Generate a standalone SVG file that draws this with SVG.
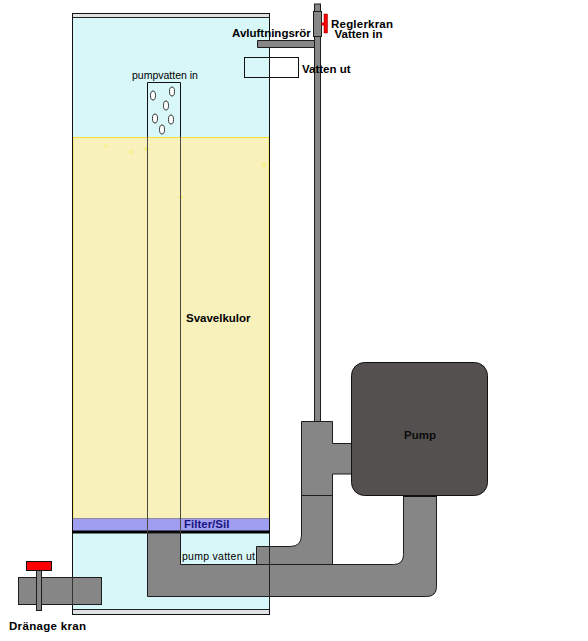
<svg xmlns="http://www.w3.org/2000/svg" width="588" height="641" viewBox="0 0 588 641">
<style>
text{font-family:"Liberation Sans",Arial,sans-serif;fill:#000}
.b{font-size:11.5px;font-weight:bold}
.n{font-size:10.5px}
.p{fill:#868686;stroke:#1c1c1c;stroke-width:1}
.l{fill:none;stroke:#1c1c1c;stroke-width:1}
.bub{fill:#fff;stroke:#333;stroke-width:1}
.s{fill:#f5ee50;opacity:.55}
</style>
<rect width="588" height="641" fill="#fff"/>
<g id="tank">
<rect x="72.500" y="13.500" width="197" height="601" fill="#d8f7f8" stroke="#111"/>
<rect x="73" y="14" width="196" height="3.500" fill="#dfe3e4"/>
<line x1="73" y1="17.500" x2="269" y2="17.500" stroke="#222"/>
<rect x="73" y="609.500" width="196" height="4.500" fill="#dfe3e4"/>
<line x1="73" y1="609.500" x2="269" y2="609.500" stroke="#222"/>
</g>
<g id="svavelkulor">
<rect x="73" y="137.500" width="196" height="381" fill="#f8f1bb" stroke="#f5de3c" stroke-width="1"/>
<line x1="72.500" y1="137" x2="72.500" y2="519" stroke="#111"/>
<line x1="269.500" y1="137" x2="269.500" y2="519" stroke="#111"/>
<circle class="s" cx="106" cy="146" r="1.500"/>
<circle class="s" cx="131" cy="152" r="1.800"/>
<circle class="s" cx="146" cy="149" r="2"/>
<circle class="s" cx="181" cy="197" r="2"/>
<circle class="s" cx="264" cy="165" r="2"/>
<text class="b" x="186" y="322">Svavelkulor</text>
</g>
<g id="filter">
<rect x="73" y="518" width="196" height="13" fill="#a09ef0"/>
<line x1="73" y1="518.500" x2="269" y2="518.500" stroke="#8f8c9c"/>
<line x1="72" y1="532" x2="270" y2="532" stroke="#000" stroke-width="3"/>
<text class="b" x="184" y="528" style="fill:#1a1480">Filter/Sil</text>
</g>
<g id="inlet-tube">
<path d="M147.500 137V82.500H180.500V137" fill="none" stroke="#111"/>
<line x1="147.500" y1="137" x2="147.500" y2="533" stroke="#4a4a40"/>
<line x1="180.500" y1="137" x2="180.500" y2="533" stroke="#4a4a40"/>
<text class="n" x="132" y="79">pumpvatten in</text>
<ellipse class="bub" cx="153" cy="95.500" rx="2.500" ry="4.500"/>
<ellipse class="bub" cx="172" cy="91.500" rx="2.500" ry="4.500"/>
<ellipse class="bub" cx="166" cy="105.500" rx="2.500" ry="4.500"/>
<ellipse class="bub" cx="155" cy="118.500" rx="2.500" ry="4.500"/>
<ellipse class="bub" cx="171" cy="119.500" rx="2.500" ry="4.500"/>
<ellipse class="bub" cx="162" cy="129.500" rx="2.500" ry="4.500"/>
</g>
<g id="connectors">
<path class="p" d="M147.500 533V596.500H426.500Q436.500 596.500 436.500 586.500V495.500H403.500V554.500Q403.500 564.500 393.500 564.500H180.500V533Z"/>
<path class="p" d="M256.500 564.500V546.500H290Q301.500 546.500 301.500 535V495.500H332.500V564.500Z"/>
<path class="p" d="M301.500 495.500V421.500H332.500V443.500H352V474H332.500V495.500Z"/>
<rect class="p" x="314.500" y="4" width="6" height="417.500"/>
<rect x="403.500" y="494" width="33" height="3" fill="#111"/>
<line x1="269.500" y1="533" x2="269.500" y2="609" stroke="#222"/>
<line x1="256.500" y1="564.500" x2="332.500" y2="564.500" stroke="#1c1c1c"/>
</g>
<g id="avluftningsror">
<path d="M257.500 40.500H314.500V47.500H257.500Z" fill="#868686" stroke="#1c1c1c"/>
<rect x="315" y="41" width="5" height="6" fill="#868686"/>
<text class="b" x="232" y="37">Avluftningsrör</text>
</g>
<g id="reglerkran">
<rect class="p" x="313.500" y="11.500" width="8" height="25"/>
<rect x="321.500" y="22.500" width="3" height="3" fill="#f00"/>
<rect x="324" y="14" width="3.500" height="19" fill="#f00" stroke="#7a0000" stroke-width=".5"/>
<text class="b" x="331" y="28" textLength="62">Reglerkran</text>
<text class="b" x="334.500" y="38">Vatten in</text>
</g>
<g id="vatten-ut">
<rect x="244.500" y="57.500" width="54" height="20" fill="none" stroke="#111"/>
<text class="b" x="302" y="73">Vatten ut</text>
</g>
<g id="pump">
<rect x="351.500" y="362.500" width="136" height="133" rx="13" ry="13" fill="#545050" stroke="#111"/>
<text class="b" x="404" y="439" style="fill:#0a0a0a">Pump</text>
</g>
<g id="pump-vatten-ut">
<text class="n" x="182" y="560" textLength="73">pump vatten ut</text>
</g>
<g id="dranage-kran">
<rect class="p" x="18.500" y="577.500" width="83" height="27"/>
<line x1="72.500" y1="577.500" x2="72.500" y2="604.500" stroke="#333"/>
<rect class="p" x="36.500" y="570.500" width="5" height="40"/>
<rect x="26.500" y="561.500" width="25" height="9" fill="#f00" stroke="#111"/>
<text class="b" x="9" y="630" textLength="77">Dränage kran</text>
</g>
</svg>
